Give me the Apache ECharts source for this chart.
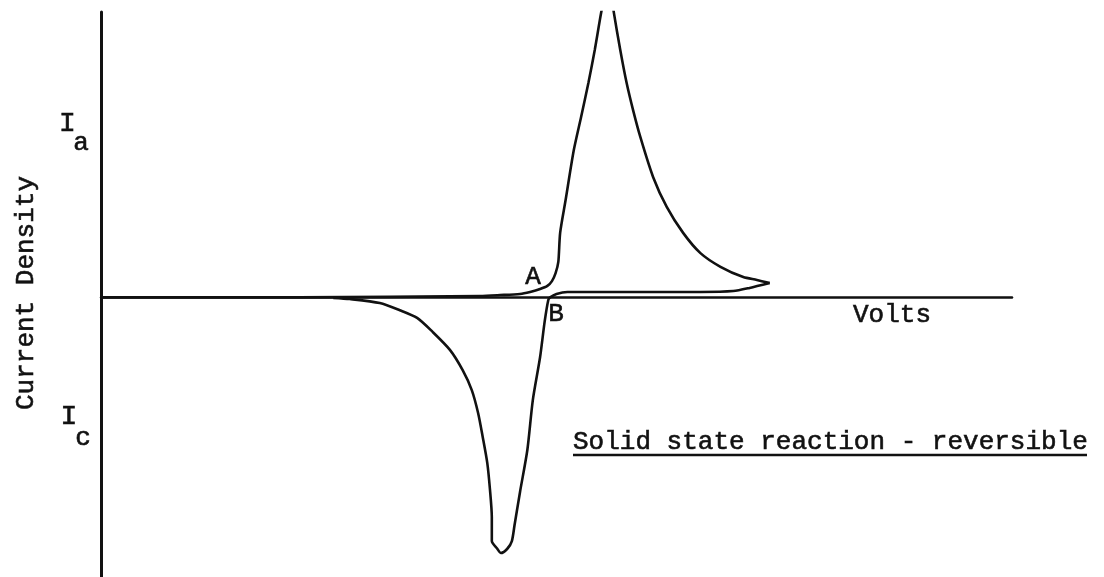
<!DOCTYPE html>
<html>
<head>
<meta charset="utf-8">
<script src="https://cdn.jsdelivr.net/npm/echarts@6/dist/echarts.min.js"></script>
<style>
  html, body { margin: 0; padding: 0; background: #fff; }
  #chart { width: 1104px; height: 577px; }
</style>
</head>
<body>
<div id="chart"></div>
<script>
// Cyclic sweep of a reversible solid state reaction (arbitrary units).
// Forward (anodic) sweep: baseline -> A -> anodic peak -> switching potential.
const forwardVolts = [0, 21.8, 41.6, 43.8, 46.0, 47.1, 48.2, 49.0, 49.5, 49.9, 50.2, 50.4, 51.0,
  51.9, 52.7, 53.5, 54.2, 54.9, 55.7, 56.3, 57.0, 57.7, 58.4, 59.2, 60.6, 62.1, 63.9, 65.8,
  68.0, 70.5, 72.0, 73.4];
const forwardCurrent = [0, 0, 0.05, 0.08, 0.12, 0.19, 0.29, 0.40, 0.57, 0.85, 1.24, 2.26, 3.41,
  5.16, 6.32, 7.51, 8.67, 9.97, 11.26, 9.97, 8.67, 7.51, 6.57, 5.62, 4.22, 3.17, 2.26, 1.55,
  1.07, 0.71, 0.61, 0.50];

// Reverse (cathodic) sweep: switching potential -> B -> cathodic peak -> back to baseline.
const reverseVolts = [73.4, 71.2, 69.4, 65.8, 54.8, 51.2, 50.0, 49.3, 49.1, 48.7, 48.2, 47.4,
  46.8, 46.0, 45.4, 45.1, 44.6, 43.9, 43.5, 42.9, 42.9, 42.7, 42.4, 41.9, 41.4, 40.7, 39.7,
  38.3, 36.4, 34.7, 32.8, 30.6, 27.3, 25.5];
const reverseCurrent = [0.50, 0.33, 0.22, 0.19, 0.19, 0.19, 0.12, 0, -0.09, -0.85, -2.09, -3.60,
  -5.35, -6.81, -7.97, -8.54, -8.81, -8.96, -8.81, -8.54, -7.70, -6.75, -5.80, -4.89, -4.06,
  -3.25, -2.55, -1.84, -1.21, -0.72, -0.45, -0.20, -0.06, -0.02];

const axisNames = { x: 'Volts', y: 'Current Density' };
const currentLabels = { anodic: 'a', cathodic: 'c' };
const pointLabels = ['A', 'B'];
const caption = 'Solid state reaction - reversible';

const pairs = (xs, ys) => xs.map((x, i) => [x, ys[i]]);

const FONT = '"Liberation Mono", "DejaVu Sans Mono", monospace';
const INK = '#111';

// Typewritten label; a hairline stroke gives the glyphs a slightly heavier inked look.
const txt = (text, x, y, opts = {}) => ({
  type: 'text',
  x, y,
  rotation: opts.rotation || 0,
  style: {
    text,
    font: (opts.size || 26) + 'px ' + FONT,
    fill: INK,
    stroke: INK,
    lineWidth: 0.6,
    align: opts.align || 'left',
    verticalAlign: 'middle'
  }
});

const chart = echarts.init(document.getElementById('chart'), null, { renderer: 'canvas' });

const lineStyle = { color: INK, width: 2.6 };

chart.setOption({
  animation: false,
  backgroundColor: '#fff',
  grid: { left: 101, right: 92, top: 12, bottom: 0, containLabel: false },
  xAxis: {
    type: 'value',
    min: 0,
    max: 100,
    axisLine: { show: true, onZero: true, lineStyle: { color: INK, width: 2.5 } },
    axisTick: { show: false },
    axisLabel: { show: false },
    splitLine: { show: false }
  },
  yAxis: {
    type: 'value',
    min: -9.8,
    max: 10,
    axisLine: { show: true, onZero: true, lineStyle: { color: INK, width: 3 } },
    axisTick: { show: false },
    axisLabel: { show: false },
    splitLine: { show: false }
  },
  series: [
    {
      name: 'forward',
      type: 'line',
      data: pairs(forwardVolts, forwardCurrent),
      showSymbol: false,
      smooth: 0.25,
      clip: true,
      lineStyle
    },
    {
      name: 'reverse',
      type: 'line',
      data: pairs(reverseVolts, reverseCurrent),
      showSymbol: false,
      smooth: 0.25,
      clip: true,
      lineStyle
    }
  ],
  graphic: [
    txt(axisNames.y, 26, 293, { rotation: Math.PI / 2, align: 'center' }),
    txt('I', 67.5, 124, { align: 'center', size: 28 }),
    txt(currentLabels.anodic, 81, 143, { align: 'center' }),
    txt('I', 69, 417, { align: 'center', size: 28 }),
    txt(currentLabels.cathodic, 83, 438, { align: 'center' }),
    txt(pointLabels[0], 533, 277, { align: 'center' }),
    txt(pointLabels[1], 556, 314, { align: 'center' }),
    txt(axisNames.x, 853, 315),
    txt(caption, 573, 442),
    {
      type: 'line',
      shape: { x1: 573, y1: 455, x2: 1087, y2: 455 },
      style: { stroke: INK, lineWidth: 2.5 }
    }
  ]
});
</script>
</body>
</html>
